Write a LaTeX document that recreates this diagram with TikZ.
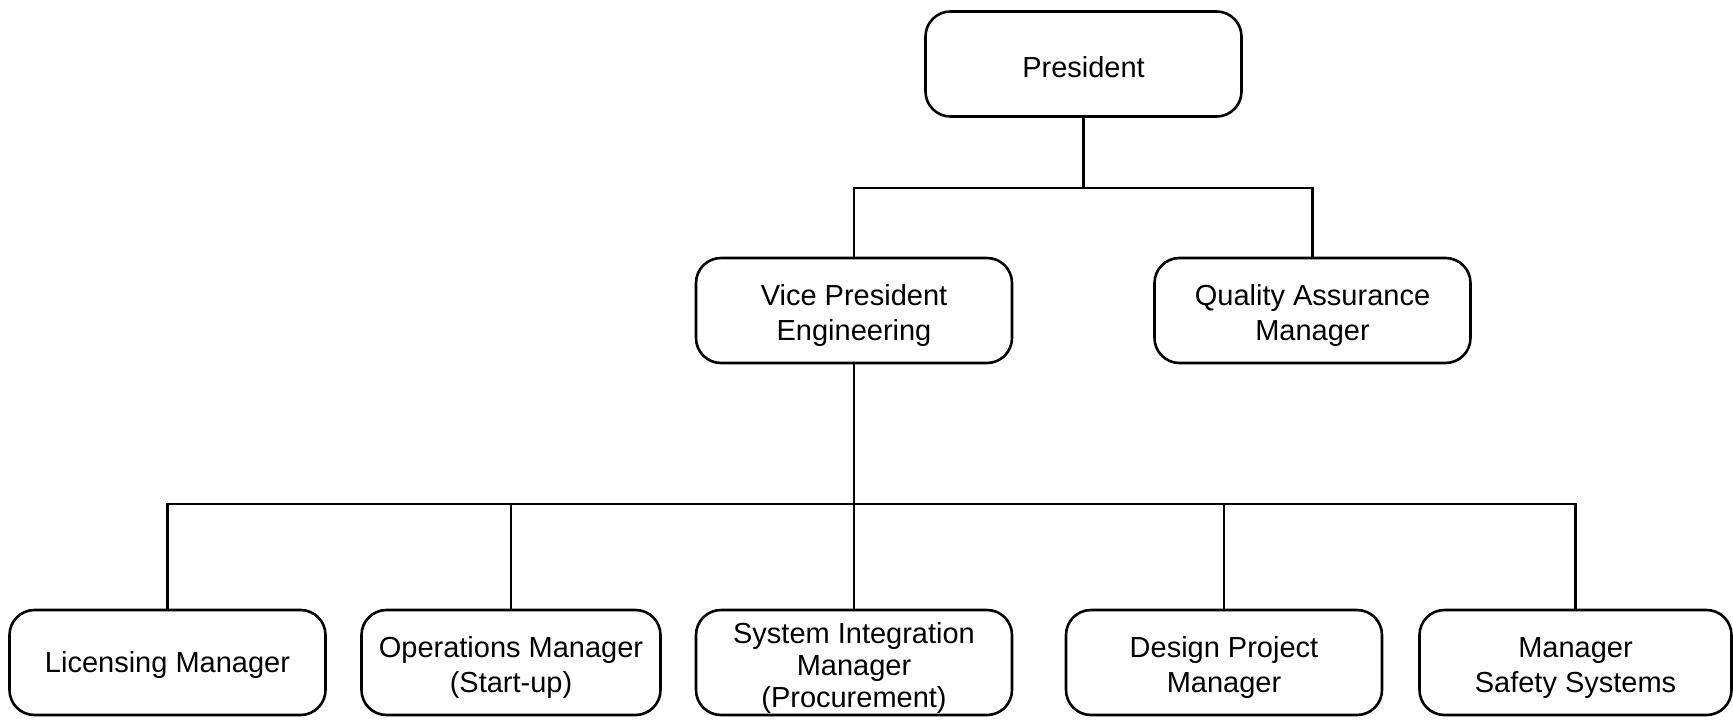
\documentclass[tikz,border=0pt]{standalone}
\usepackage{fontspec}
\setmainfont{Liberation Sans}
\newcommand{\topstrut}{\rule{0pt}{31pt}}
\begin{document}
\begin{tikzpicture}[x=1pt,y=-1pt,
  box/.style={draw=black, line width=2.6pt, rounded corners=25pt, minimum width=316pt,
    minimum height=105pt, inner sep=0pt, align=center, font=\fontsize{29}{35}\selectfont,
    execute at begin node={\rule{0pt}{27pt}}},
  conn/.style={draw=black, line width=2.4pt}]
\useasboundingbox (0,0) rectangle (1733,720);
\node[box] (pres) at (1083.5,64) {President};
\node[box] (vp) at (854,310.5) {\topstrut Vice President\\Engineering};
\node[box] (qa) at (1312.5,310.5) {\topstrut Quality Assurance\\Manager};
\node[box] (lic) at (167.5,662.5) {Licensing Manager};
\node[box, minimum width=299pt] (ops) at (511,662.5) {\topstrut Operations Manager\\(Start-up)};
\node[box, font=\fontsize{29}{32}\selectfont] (sys) at (854,662.5) {\topstrut System Integration\\Manager\\(Procurement)};
\node[box] (des) at (1224,662.5) {\topstrut Design Project\\Manager};
\node[box, minimum width=312pt] (saf) at (1575.5,662.5) {\topstrut Manager\\Safety Systems};
\coordinate (j1) at (1083.5,188);
\coordinate (j2) at (854,504);
\draw[conn] (pres.south) -- (j1);
\draw[conn] (vp.north) |- (j1) -| (qa.north);
\draw[conn] (vp.south) -- (sys.north);
\draw[conn] (lic.north) |- (j2) -| (saf.north);
\draw[conn] (ops.north) -- (ops.north |- j2);
\draw[conn] (des.north) -- (des.north |- j2);
\end{tikzpicture}
\end{document}
